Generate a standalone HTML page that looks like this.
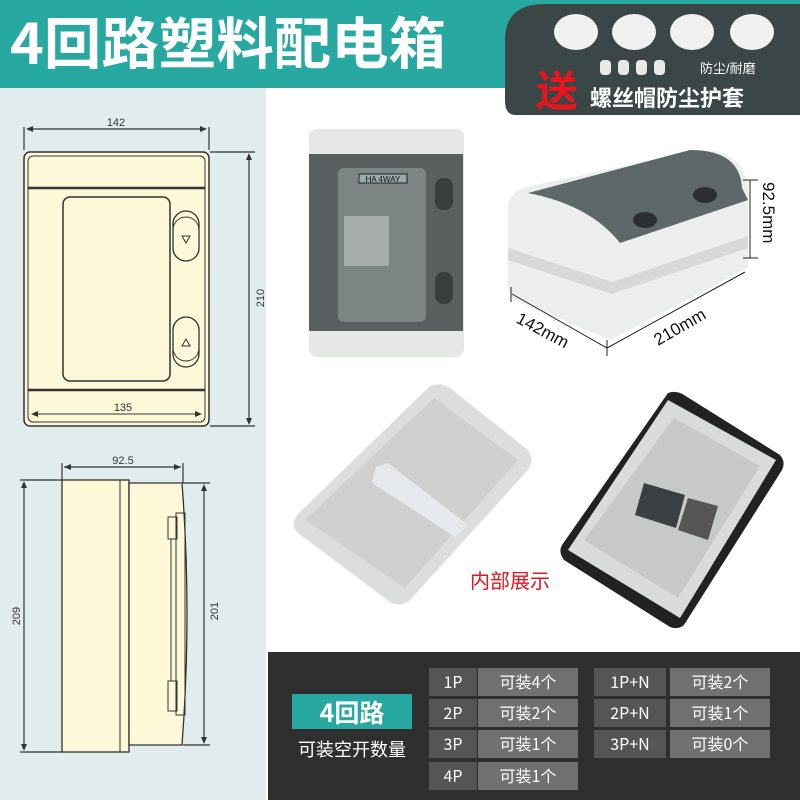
<!DOCTYPE html>
<html><head><meta charset="utf-8"><style>
body{margin:0;width:800px;height:800px;overflow:hidden;background:#fff;font-family:"Liberation Sans","Noto Sans CJK SC",sans-serif;}
</style></head><body>
<svg width="800" height="800" viewBox="0 0 800 800" xmlns="http://www.w3.org/2000/svg" font-family="Liberation Sans, Noto Sans CJK SC, sans-serif">
<rect width="800" height="800" fill="#fff"/>
<!-- header -->
<rect x="0" y="0" width="800" height="88" fill="#27a8a0"/>
<text x="10" y="64" font-size="56" font-weight="bold" fill="#fff" font-family="Noto Sans CJK SC, sans-serif" textLength="436" lengthAdjust="spacingAndGlyphs">4回路塑料配电箱</text>
<path d="M545 4 H800 V115 H515 Q505 115 505 100 V40 Q505 4 545 4Z" fill="#3b4747"/>
<g fill="#f0f0f0"><ellipse cx="576" cy="32" rx="22" ry="18"/><ellipse cx="634" cy="32" rx="22" ry="18"/><ellipse cx="692" cy="32" rx="22" ry="18"/><ellipse cx="752" cy="32" rx="22" ry="18"/></g>
<g fill="#e8e8e8"><rect x="600" y="60" width="11" height="15" rx="4"/><rect x="618" y="60" width="11" height="15" rx="4"/><rect x="636" y="60" width="11" height="15" rx="4"/><rect x="654" y="60" width="11" height="15" rx="4"/></g>
<text x="700" y="73" font-size="13" fill="#fff">防尘/耐磨</text>
<text x="536" y="106" font-size="42" font-weight="bold" fill="#e8141e" font-family="Noto Sans CJK SC, sans-serif">送</text>
<text x="590" y="106" font-size="22" font-weight="bold" fill="#fff" font-family="Noto Sans CJK SC, sans-serif">螺丝帽防尘护套</text>
<!-- left panel -->
<rect x="0" y="88" width="266" height="712" fill="#e1eded"/>
<!-- front drawing -->
<g stroke="#333" stroke-width="1.2" fill="none">
<line x1="24" y1="127" x2="24" y2="150"/><line x1="209" y1="127" x2="209" y2="150"/>
<line x1="27" y1="129" x2="206" y2="129"/>
<line x1="210" y1="152" x2="255" y2="152"/><line x1="210" y1="426" x2="255" y2="426"/>
<line x1="249" y1="155" x2="249" y2="423"/>
</g>
<g fill="#333"><path d="M26 129 l7 -3 v6z"/><path d="M207 129 l-7 -3 v6z"/><path d="M249 153 l-3 7 h6z"/><path d="M249 425 l-3 -7 h6z"/></g>
<text x="116" y="126" font-size="11" fill="#333" text-anchor="middle">142</text>
<text x="264" y="298" font-size="11" fill="#333" text-anchor="middle" transform="rotate(-90 264 298)">210</text>
<rect x="24" y="152" width="185" height="274" rx="6" fill="#fdf8d8" stroke="#333" stroke-width="1.5"/>
<rect x="28" y="156" width="177" height="266" rx="5" fill="none" stroke="#333" stroke-width="1"/>
<line x1="28" y1="188" x2="205" y2="188" stroke="#333" stroke-width="2.5"/>
<line x1="28" y1="390" x2="205" y2="390" stroke="#333" stroke-width="2.5"/>
<rect x="63" y="197" width="107" height="184" rx="7" fill="none" stroke="#333" stroke-width="1.5"/>
<rect x="173" y="211" width="26" height="50" rx="13" fill="none" stroke="#333" stroke-width="1.3"/>
<rect x="173" y="217" width="26" height="44" rx="13" fill="none" stroke="#333"/>
<rect x="173" y="317" width="26" height="50" rx="13" fill="none" stroke="#333" stroke-width="1.3"/>
<rect x="173" y="317" width="26" height="44" rx="13" fill="none" stroke="#333"/>
<path d="M182 236 h8 l-4 7z M182 346 h8 l-4 -7z" fill="none" stroke="#333"/>
<line x1="32" y1="414" x2="201" y2="414" stroke="#333"/>
<path d="M31 414 l7 -3 v6z M202 414 l-7 -3 v6z" fill="#333"/>
<text x="123" y="411" font-size="11" fill="#333" text-anchor="middle">135</text>
<!-- side drawing -->
<g stroke="#333" stroke-width="1.2" fill="none">
<line x1="62" y1="463" x2="62" y2="480"/><line x1="183" y1="463" x2="183" y2="483"/>
<line x1="64" y1="467" x2="181" y2="467"/>
<line x1="20" y1="480" x2="62" y2="480"/><line x1="20" y1="752" x2="62" y2="752"/>
<line x1="24" y1="483" x2="24" y2="749"/>
<line x1="183" y1="483" x2="210" y2="483"/><line x1="183" y1="745" x2="210" y2="745"/>
<line x1="204" y1="486" x2="204" y2="742"/>
</g>
<g fill="#333"><path d="M64 467 l7 -3 v6z M181 467 l-7 -3 v6z M24 481 l-3 7 h6z M24 751 l-3 -7 h6z M204 484 l-3 7 h6z M204 744 l-3 -7 h6z"/></g>
<text x="123" y="464" font-size="11" fill="#333" text-anchor="middle">92.5</text>
<text x="20" y="616" font-size="11" fill="#333" text-anchor="middle" transform="rotate(-90 20 616)">209</text>
<text x="218" y="611" font-size="11" fill="#333" text-anchor="middle" transform="rotate(-90 218 611)">201</text>
<rect x="62" y="480" width="67" height="272" fill="#fdf8d8" stroke="#333" stroke-width="1.3"/>
<line x1="120" y1="480" x2="120" y2="752" stroke="#333"/>
<path d="M129 483 H182 Q192 614 182 745 H129Z" fill="#fdf8d8" stroke="#333" stroke-width="1.3"/>
<rect x="168" y="517" width="9" height="22" fill="none" stroke="#333"/>
<rect x="168" y="681" width="9" height="30" fill="none" stroke="#333"/>
<rect x="176" y="513" width="9" height="202" fill="none" stroke="#333"/>
<line x1="171" y1="539" x2="171" y2="681" stroke="#333"/>
<!-- front photo -->
<rect x="309" y="129" width="155" height="228" rx="8" fill="#e6e8e6"/>
<rect x="309" y="154" width="154" height="177" fill="#5a6060"/>
<rect x="338" y="168" width="88" height="154" rx="6" fill="#7c8484"/>
<rect x="359" y="174" width="48" height="9" fill="#9aa" stroke="#222"/>
<text x="383" y="182" font-size="8" fill="#111" text-anchor="middle">HA 4WAY</text>
<rect x="344" y="216" width="45" height="50" fill="#a6acac"/>
<rect x="435" y="178" width="18" height="32" rx="8" fill="#3a3e3e"/>
<rect x="435" y="272" width="18" height="32" rx="8" fill="#3a3e3e"/>
<!-- 3D box -->
<path d="M508 205 Q510 190 535 185 L700 150 Q745 150 748 190 V268 L610 340 L515 300 Q508 295 508 285Z" fill="#eceeed"/>
<path d="M508 248 L612 282 L748 236 V248 L612 294 L508 260Z" fill="#d6d9d8"/>
<path d="M528 193 L690 150 Q740 150 742 188 L748 200 L620 243 Q590 205 528 193Z" fill="#5e6868"/>
<ellipse cx="645" cy="220" rx="12" ry="8" fill="#2b2f2f"/><ellipse cx="705" cy="195" rx="12" ry="8" fill="#2b2f2f"/>
<g stroke="#222" stroke-width="1" fill="none">
<path d="M511 287 V302 M512 294 L607 348 L745 272 M607 340 V356"/>
<path d="M743 180 h15 M743 258 h15 M750 180 V258"/>
</g>
<text x="0" y="0" font-size="17" fill="#111" transform="translate(515 322) rotate(28)">142mm</text>
<text x="0" y="0" font-size="17" fill="#111" transform="translate(658 346) rotate(-30)">210mm</text>
<text x="0" y="0" font-size="17" fill="#111" transform="translate(763 182) rotate(90)">92.5mm</text>
<!-- interior photos -->
<path d="M430 386 Q440 382 450 388 L528 450 Q535 460 528 470 L410 600 Q400 608 390 602 L298 533 Q290 525 297 515Z" fill="#dcdedd"/>
<path d="M434 398 L518 460 L405 588 L305 520Z" fill="#cdd0cf"/>
<path d="M376 467 L388 463 L468 525 L455 537 L372 483Z" fill="#e6e9eb"/>
<path d="M668 393 Q676 390 684 395 L780 455 Q786 462 782 470 L684 625 Q678 630 670 627 L564 560 Q558 552 562 545Z" fill="#222"/>
<path d="M668 400 L776 460 L680 618 L568 550Z" fill="#d8dbda"/>
<path d="M674 418 L760 466 L678 598 L584 540Z" fill="#c6c9c8"/>
<path d="M644 483 L685 495 L676 528 L635 515Z" fill="#3a4042"/>
<path d="M688 498 L718 506 L708 540 L678 530Z" fill="#555"/>
<text x="510" y="588" font-size="20" fill="#e8141e" text-anchor="middle" font-family="Noto Sans CJK SC, sans-serif">内部展示</text>
<!-- bottom table -->
<rect x="268" y="652" width="532" height="148" fill="#2f2f2f"/>
<rect x="292" y="694" width="120" height="35" fill="#27a8a0"/>
<text x="352" y="722" font-size="25" font-weight="bold" fill="#fff" text-anchor="middle" font-family="Noto Sans CJK SC, sans-serif">4回路</text>
<text x="352" y="756" font-size="18" fill="#fff" text-anchor="middle" font-family="Noto Sans CJK SC, sans-serif">可装空开数量</text>
<g font-family="Noto Sans CJK SC, sans-serif" font-size="16" fill="#fff" text-anchor="middle">
<rect x="429" y="668" width="48" height="28" fill="#555"/><rect x="478" y="668" width="100" height="28" fill="#707070"/>
<rect x="429" y="699" width="48" height="28" fill="#555"/><rect x="478" y="699" width="100" height="28" fill="#707070"/>
<rect x="429" y="730" width="48" height="28" fill="#555"/><rect x="478" y="730" width="100" height="28" fill="#707070"/>
<rect x="429" y="762" width="48" height="28" fill="#555"/><rect x="478" y="762" width="100" height="28" fill="#707070"/>
<rect x="594" y="668" width="72" height="28" fill="#555"/><rect x="670" y="668" width="100" height="28" fill="#707070"/>
<rect x="594" y="699" width="72" height="28" fill="#555"/><rect x="670" y="699" width="100" height="28" fill="#707070"/>
<rect x="594" y="730" width="72" height="28" fill="#555"/><rect x="670" y="730" width="100" height="28" fill="#707070"/>
<text x="453" y="688">1P</text><text x="528" y="688">可装4个</text>
<text x="453" y="719">2P</text><text x="528" y="719">可装2个</text>
<text x="453" y="750">3P</text><text x="528" y="750">可装1个</text>
<text x="453" y="782">4P</text><text x="528" y="782">可装1个</text>
<text x="630" y="688">1P+N</text><text x="720" y="688">可装2个</text>
<text x="630" y="719">2P+N</text><text x="720" y="719">可装1个</text>
<text x="630" y="750">3P+N</text><text x="720" y="750">可装0个</text>
</g>
</svg>
</body></html>
